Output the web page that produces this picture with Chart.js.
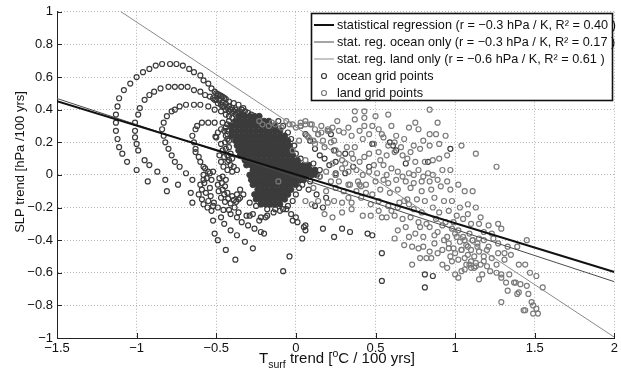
<!DOCTYPE html>
<html><head><meta charset="utf-8">
<script src="https://cdn.jsdelivr.net/npm/chart.js@4.4.0/dist/chart.umd.min.js"></script>
<style>html,body{margin:0;padding:0;background:#fff;}canvas{display:block;}</style>
</head><body>
<canvas id="c" width="621" height="373"></canvas>
<script>
const xTicks = [-1.5, -1, -0.5, 0, 0.5, 1, 1.5, 2];
const yTicks = [-1, -0.8, -0.6, -0.4, -0.2, 0, 0.2, 0.4, 0.6, 0.8, 1];

const regressionLabels = [
  'statistical regression (r = \u22120.3 hPa / K, R\u00b2 = 0.40 )',
  'stat. reg. ocean only (r = \u22120.3 hPa / K, R\u00b2 = 0.17 )',
  'stat. reg. land only (r = \u22120.6 hPa / K, R\u00b2 = 0.61 )'
];
const regressionSlopes = [-0.299, -0.321, -0.644];
const regressionIntercepts = [0.003, -0.013, 0.293];
const pointLabels = ['ocean grid points', 'land grid points'];

const oceanPoints = [
[-1.06,0.08],[-1.09,0.13],[-1.11,0.17],[-1.12,0.22],[-1.13,0.27],[-1.13,0.32],[-1.13,0.37],[-1.12,0.42],[-1.11,0.47],[-1.08,0.52],[-1.04,0.56],[-1.00,0.60],[-0.96,0.63],[-0.92,0.65],[-0.88,0.67],[-0.84,0.68],[-0.79,0.68],[-0.75,0.68],[-0.71,0.67],[-0.67,0.65],[-0.64,0.63],[-0.60,0.61],[-0.58,0.58],[-0.55,0.56],[-0.53,0.53],[-0.51,0.51],
[-0.50,0.50],[-0.49,0.495],[-0.48,0.49],[-0.47,0.484],[-0.46,0.478],[-0.45,0.472],[-0.44,0.465],[-0.42,0.45],[-0.39,0.44],[-0.36,0.43],[-0.33,0.41],
[-0.52,0.47],[-0.50,0.46],[-0.48,0.455],[-0.46,0.445],[-0.44,0.435],[-0.42,0.42],[-0.40,0.41],[-0.38,0.40],[-0.36,0.39],
[-0.47,0.43],[-0.45,0.42],[-0.43,0.41],[-0.41,0.40],[-0.39,0.39],[-0.37,0.38],[-0.35,0.375],[-0.33,0.37],
[-0.34,0.40],[-0.32,0.39],[-0.30,0.38],[-0.28,0.37],
[-1.00,0.03],[-0.93,-0.04],[-0.81,-0.10],
[-0.98,0.41],[-0.99,0.37],[-1.01,0.32],[-1.01,0.27],[-1.01,0.23],[-1.00,0.19],[-0.99,0.15],[-0.95,0.09],[-0.92,0.06],[-0.87,0.02],[-0.82,-0.03],[-0.74,-0.06],[-0.66,-0.11],[-0.65,-0.17],
[-0.95,0.46],[-0.92,0.49],[-0.89,0.51],[-0.85,0.53],[-0.80,0.54],[-0.76,0.54],[-0.72,0.54],[-0.68,0.54],[-0.64,0.52],[-0.60,0.51],[-0.57,0.49],[-0.54,0.48],[-0.51,0.46],[-0.49,0.44],[-0.46,0.42],[-0.44,0.40],[-0.42,0.39],[-0.40,0.38],[-0.38,0.37],[-0.36,0.36],
[-0.78,0.39],[-0.76,0.40],[-0.73,0.42],[-0.69,0.43],[-0.64,0.43],[-0.60,0.43],[-0.55,0.42],[-0.51,0.40],[-0.47,0.39],[-0.44,0.37],[-0.42,0.36],[-0.40,0.35],
[-0.81,0.36],[-0.83,0.32],[-0.84,0.28],[-0.83,0.24],[-0.82,0.20],[-0.80,0.16],[-0.78,0.12],[-0.76,0.08],[-0.73,0.05],[-0.69,0.01],[-0.65,-0.03],
[-0.63,0.14],[-0.61,0.11],[-0.60,0.08],[-0.58,0.05],[-0.55,0.02],
[-0.63,0.28],[-0.62,0.30],[-0.59,0.32],[-0.55,0.32],[-0.51,0.32],[-0.46,0.32],[-0.43,0.31],[-0.41,0.30],
[-0.65,0.24],[-0.64,0.20],[-0.63,0.16],
[-0.50,0.23],[-0.505,0.235],[-0.49,0.26],[-0.47,0.28],[-0.44,0.29],[-0.47,0.19],[-0.46,0.15],[-0.45,0.11],[-0.43,0.08],[-0.41,0.06],[-0.43,0.25],[-0.42,0.21],[-0.42,0.17],[-0.41,0.13],[-0.40,0.10],[-0.48,0.12],[-0.47,0.08],[-0.455,0.05],[-0.43,0.03],[-0.40,0.02],
[-0.45,0.27],[-0.44,0.24],[-0.445,0.20],[-0.44,0.16],[-0.43,0.12],[-0.42,0.09],[-0.39,0.05],[-0.37,0.03],
[-0.54,0.01],[-0.56,-0.02],[-0.60,-0.06],[-0.61,-0.12],[-0.58,-0.18],[-0.53,-0.22],[-0.58,-0.03],[-0.59,-0.09],[-0.59,-0.15],[-0.555,-0.20],
[-0.57,0.04],[-0.58,0.00],[-0.575,-0.05],[-0.565,-0.11],[-0.55,-0.16],[-0.52,-0.19],
[-0.52,0.02],[-0.53,-0.03],[-0.54,-0.08],[-0.535,-0.13],[-0.515,-0.17],[-0.49,-0.20],[-0.455,-0.215],[-0.42,-0.215],[-0.385,-0.20],
[-0.48,-0.02],[-0.49,-0.06],[-0.485,-0.10],[-0.47,-0.14],[-0.445,-0.165],[-0.41,-0.175],[-0.375,-0.165],[-0.35,-0.14],
[-0.46,-0.01],[-0.465,-0.05],[-0.46,-0.09],[-0.45,-0.12],[-0.425,-0.145],[-0.39,-0.155],[-0.36,-0.15],[-0.33,-0.12],
[-0.44,-0.03],[-0.445,-0.07],[-0.43,-0.11],[-0.40,-0.13],[-0.37,-0.12],[-0.35,-0.09],
[-0.42,0.33],[-0.43,0.27],[-0.43,0.22],[-0.11,0.33],[-0.08,0.30],[-0.05,0.26],[-0.03,0.22],[-0.01,0.18],[0.00,0.13],[0.03,0.10],[0.11,0.07],[0.15,0.03],[0.15,-0.01],[0.09,-0.04],[0.02,-0.08],[0.00,-0.12],[-0.02,-0.16],[-0.05,-0.19],[-0.08,-0.21],[-0.13,-0.21],[-0.18,-0.21],[-0.25,-0.19],[-0.29,-0.17],
[-0.52,-0.28],[-0.51,-0.36],[-0.49,-0.40],[-0.44,-0.46],[-0.38,-0.52],[-0.08,-0.59],[-0.04,-0.50],[-0.27,-0.45],[-0.32,-0.41],[-0.37,-0.37],[-0.41,-0.34],[-0.45,-0.30],[-0.47,-0.26],[-0.22,-0.35],[-0.20,-0.36],[-0.26,-0.33],[-0.30,-0.31],[-0.34,-0.29],[-0.37,-0.26],[-0.41,-0.24],
[-0.36,-0.23],[-0.31,-0.25],[-0.27,-0.24],[-0.22,-0.26],[-0.18,-0.25],[-0.14,-0.23],[-0.10,-0.22],[-0.06,-0.21],[-0.03,-0.24],[-0.02,-0.28],[-0.29,-0.25],[-0.23,-0.28],[-0.19,-0.26],[0.00,-0.26],[0.01,-0.29],[0.05,-0.32],[0.06,-0.34],[0.04,-0.39],
[0.03,0.30],[0.06,0.25],[0.09,0.21],[0.12,0.16],[0.15,0.12],[0.18,0.10],[0.21,0.06],[0.24,0.15],[0.31,0.13],[0.25,0.08],[0.25,0.01],[0.31,0.01],[0.36,0.05],[0.46,0.05],[0.48,0.19],[0.59,0.20],[0.61,0.18],[0.63,0.15],[0.97,0.16],[0.69,0.07],[0.83,0.08],[0.22,0.25],[0.04,-0.06],[0.08,-0.09],[0.13,-0.12],[0.19,-0.14],[0.17,-0.20],[0.12,-0.19],
[0.24,-0.38],[0.29,-0.33],[0.34,-0.35],[0.45,-0.36],[0.48,-0.37],[0.54,-0.48],[0.81,-0.61],[0.86,-0.62],[0.54,-0.65],[0.81,-0.69],[0.17,-0.33],[0.06,-0.31]
];

// dense ocean core: each row is [y, x1, x2, ...]
const oceanCoreRows = [
[0.36, -0.35,-0.32,-0.29,-0.26,-0.23],
[0.33, -0.38,-0.35,-0.32,-0.29,-0.26,-0.23,-0.20,-0.17],
[0.30, -0.40,-0.37,-0.34,-0.31,-0.28,-0.25,-0.22,-0.19,-0.16,-0.13],
[0.27, -0.40,-0.37,-0.34,-0.31,-0.28,-0.25,-0.22,-0.19,-0.16,-0.13,-0.10],
[0.24, -0.40,-0.37,-0.34,-0.31,-0.28,-0.25,-0.22,-0.19,-0.16,-0.13,-0.10,-0.07],
[0.21, -0.38,-0.35,-0.32,-0.29,-0.26,-0.23,-0.20,-0.17,-0.14,-0.11,-0.08,-0.05],
[0.18, -0.37,-0.34,-0.31,-0.28,-0.25,-0.22,-0.19,-0.16,-0.13,-0.10,-0.07,-0.04],
[0.15, -0.36,-0.33,-0.30,-0.27,-0.24,-0.21,-0.18,-0.15,-0.12,-0.09,-0.06,-0.03],
[0.12, -0.35,-0.32,-0.29,-0.26,-0.23,-0.20,-0.17,-0.14,-0.11,-0.08,-0.05,-0.02],
[0.09, -0.32,-0.29,-0.26,-0.23,-0.20,-0.17,-0.14,-0.11,-0.08,-0.05,-0.02,0.01],
[0.06, -0.31,-0.28,-0.25,-0.22,-0.19,-0.16,-0.13,-0.10,-0.07,-0.04,-0.01,0.02,0.05,0.08],
[0.03, -0.27,-0.24,-0.21,-0.18,-0.15,-0.12,-0.09,-0.06,-0.03,0.00,0.03,0.06,0.09,0.12],
[0.00, -0.29,-0.26,-0.23,-0.20,-0.17,-0.14,-0.11,-0.08,-0.05,-0.02,0.01,0.04,0.07,0.10,0.13],
[-0.03, -0.28,-0.25,-0.22,-0.19,-0.16,-0.13,-0.10,-0.07,-0.04,-0.01,0.02,0.05],
[-0.06, -0.27,-0.24,-0.21,-0.18,-0.15,-0.12,-0.09,-0.06,-0.03,0.00],
[-0.09, -0.24,-0.21,-0.18,-0.15,-0.12,-0.09,-0.06,-0.03],
[-0.12, -0.26,-0.23,-0.20,-0.17,-0.14,-0.11,-0.08,-0.05],
[-0.15, -0.25,-0.22,-0.19,-0.16,-0.13,-0.10,-0.07],
[-0.18, -0.22,-0.19,-0.16,-0.13,-0.10]
];

const landPoints = [
[0.37,0.39],[0.43,0.39],[0.84,0.40],[0.50,0.36],[0.58,0.37],[0.37,0.34],[0.43,0.35],[0.43,0.30],[0.48,0.30],[0.54,0.25],[0.71,0.29],[0.75,0.32],[0.89,0.32],[0.77,0.28],[0.84,0.25],[0.88,0.25],[0.94,0.24],[1.04,0.18],[1.13,0.13],[1.26,0.05],[0.84,0.18],[0.74,0.18],[0.68,0.22],[0.55,0.23],[0.49,0.19],[0.42,0.22],[0.35,0.24],[0.33,0.29],[0.27,0.27],[0.23,0.29],[0.20,0.27],[0.14,0.25],[0.10,0.31],[0.06,0.31],[0.03,0.30],[0.07,0.24],[0.11,0.21],[0.17,0.21],[0.22,0.20],[0.25,0.15],[0.32,0.17],[0.37,0.17],[0.35,0.13],[0.43,0.11],[0.46,0.13],[0.52,0.14],[0.57,0.12],[0.62,0.14],[0.67,0.12],[0.70,0.10],[0.75,0.08],[0.81,0.08],[0.86,0.09],[0.92,0.03],[0.97,0.03],[0.83,0.01],[0.77,0.03],[0.71,0.01],[0.64,0.02],[0.60,0.04],[0.55,0.06],[0.49,0.06],[0.46,0.02],[0.38,0.03],[0.33,0.02],[0.29,0.04],[0.25,0.00],[0.22,-0.04],[0.27,-0.04],[0.33,-0.06],[0.39,-0.04],[0.44,-0.06],[0.50,-0.04],[0.55,-0.03],[0.58,-0.05],[0.63,-0.03],[0.69,-0.04],[0.74,-0.05],[0.79,-0.04],[0.84,-0.04],[0.89,-0.03],[0.95,-0.04],[1.02,-0.06],[1.06,-0.10],[1.11,-0.10],[1.08,-0.18],[1.03,-0.20],[0.98,-0.16],[0.93,-0.16],[0.87,-0.14],[0.81,-0.16],[0.76,-0.15],[0.71,-0.18],[0.64,-0.20],[0.58,-0.19],[0.52,-0.16],[0.47,-0.18],[0.44,-0.11],[0.38,-0.10],[0.33,-0.14],[0.29,-0.17],[0.24,-0.16],[0.20,-0.17],[0.14,-0.16],[0.10,-0.18],[0.06,-0.16],[0.18,-0.24],[0.23,-0.26],[0.29,-0.23],[0.35,-0.21],[0.42,-0.25],[0.47,-0.25],[0.52,-0.22],[0.57,-0.26],[0.62,-0.25],[0.67,-0.27],[0.72,-0.26],[0.77,-0.29],[0.82,-0.30],[0.88,-0.27],[0.94,-0.29],[0.99,-0.29],[1.05,-0.27],[1.10,-0.30],[1.15,-0.30],[1.18,-0.35],[1.27,-0.30],[1.29,-0.33],[1.23,-0.36],[1.18,-0.40],[1.11,-0.40],[1.06,-0.40],[1.01,-0.38],[0.95,-0.38],[0.89,-0.35],[0.84,-0.32],[0.78,-0.32],[0.75,-0.36],[0.69,-0.32],[0.64,-0.34],[0.62,-0.39],[0.73,-0.44],[0.77,-0.45],[0.80,-0.44],[0.87,-0.42],[0.92,-0.46],[0.96,-0.45],[1.00,-0.48],[1.04,-0.46],[1.08,-0.44],[1.14,-0.42],[1.21,-0.44],[1.27,-0.42],[1.33,-0.44],[1.39,-0.44],[1.45,-0.40],[1.31,-0.48],[1.27,-0.48],[1.23,-0.51],[1.18,-0.53],[1.13,-0.54],[1.09,-0.55],[1.06,-0.51],[0.98,-0.53],[0.92,-0.55],[0.85,-0.51],[0.82,-0.51],[0.78,-0.51],[0.73,-0.55],[1.00,-0.61],[1.04,-0.59],[1.10,-0.57],[1.17,-0.61],[1.22,-0.59],[1.26,-0.60],[1.29,-0.61],[1.29,-0.63],[1.34,-0.61],[1.40,-0.55],[1.51,-0.62],[1.55,-0.69],[1.38,-0.66],[1.39,-0.73],[1.40,-0.72],[1.46,-0.73],[1.48,-0.78],[1.49,-0.80],[1.51,-0.82],[1.52,-0.85],[1.49,-0.85],[1.44,-0.83],[1.29,-0.78],[1.33,-0.71],[1.37,-0.66],[1.41,-0.67],[1.43,-0.83],
[0.98,-0.33],[1.00,-0.36],[1.02,-0.34],[1.05,-0.38],[1.03,-0.41],[1.07,-0.43],[1.10,-0.46],[1.08,-0.49],[1.12,-0.50],[1.15,-0.47],[1.10,-0.53],[1.13,-0.56],[1.16,-0.55],[1.06,-0.58],[1.02,-0.52],[0.99,-0.45],[0.96,-0.42],[1.11,-0.40],[1.14,-0.44],[1.18,-0.50],[1.20,-0.46],[0.97,-0.50],[1.04,-0.46],[1.09,-0.36],[1.15,-0.39],[1.07,-0.55],[1.12,-0.57],
[0.68,-0.16],[0.70,-0.15],[0.40,-0.06],[0.41,-0.07],
[-0.02,0.31],[0.03,0.32],[0.09,0.31],[0.14,0.25],[0.21,0.27],[0.08,0.23],[0.02,0.21],[-0.02,0.15],[0.06,0.09],[0.12,0.19],[0.18,0.17],[0.24,0.21],[0.27,0.13],[0.31,0.07],[0.23,0.07],[0.19,0.02],[0.25,0.00],[0.15,-0.01],[0.11,-0.08],[0.19,-0.10],[0.25,-0.08],[0.30,-0.10],[0.34,-0.06],[-0.11,-0.04],[-0.21,0.31],[-0.17,0.30],[-0.13,0.31],[-0.09,0.29],[-0.04,0.31],[-0.23,0.33],[-0.15,0.32],[-0.06,0.33],[0.00,0.29],[0.06,0.33],[0.16,0.26],[0.20,0.28],
[0.12,0.28],[0.16,0.30],[0.26,0.33],[0.30,0.26],[0.40,0.27],[0.46,0.25],[0.52,0.28],[0.60,0.30],[0.63,0.24],[0.58,0.18],[0.62,0.20],[0.66,0.17],[0.72,0.14],[0.78,0.16],[0.80,0.21],[0.90,0.19],[0.95,0.12],[0.90,0.10],[0.53,0.09],[0.40,0.08],[0.36,0.10],[0.29,0.09],[0.42,0.00],[0.51,0.01],[0.57,0.00],[0.67,-0.01],[0.74,0.00],[0.80,-0.01],[0.86,0.00],[0.91,-0.07],[0.97,-0.09],[0.85,-0.09],[0.79,-0.10],[0.72,-0.08],[0.64,-0.09],[0.59,-0.11],[0.53,-0.09],[0.48,-0.12],[0.41,-0.14],[0.35,-0.17],[0.54,-0.26],[0.60,-0.22],[0.65,-0.17],[0.74,-0.21],[0.79,-0.23],[0.86,-0.20],[0.90,-0.23],[0.96,-0.22],[1.01,-0.25],[1.08,-0.24],[1.13,-0.20],[1.16,-0.26],[1.21,-0.31],[1.24,-0.39],[0.92,-0.31],[0.87,-0.37],[0.80,-0.38],[0.71,-0.38],[0.68,-0.43],[0.84,-0.47],[0.89,-0.48],[0.93,-0.40],[1.31,-0.52],[1.35,-0.49],[1.44,-0.55],[1.47,-0.60],[1.26,-0.55],[1.20,-0.56],[0.95,-0.57],[1.02,-0.63],[1.15,-0.64],[1.32,-0.66],[1.45,-0.68]
];

const FONT = "'Liberation Sans', Arial, Helvetica, sans-serif";
const OCEAN_COLOR = '#3b3b3b';
const LAND_COLOR = '#7a7a7a';
const LINE_COLORS = ['#111111', '#4a4a4a', '#8a8a8a'];
const LINE_WIDTHS = [2, 1, 1];

const toXY = a => a.map(p => ({x: p[0], y: p[1]}));
const coreData = [];
oceanCoreRows.forEach(r => { for (let i = 1; i < r.length; i++) coreData.push({x: r[i], y: r[0]}); });
const xMin = xTicks[0], xMax = xTicks[xTicks.length - 1];

const lineSets = regressionLabels.map((lab, i) => ({
  label: lab, type: 'line', showLine: true,
  data: [{x: xMin, y: regressionSlopes[i]*xMin + regressionIntercepts[i]}, {x: xMax, y: regressionSlopes[i]*xMax + regressionIntercepts[i]}],
  borderColor: LINE_COLORS[i], borderWidth: LINE_WIDTHS[i], pointRadius: 0, fill: false, order: i*0.1
}));

const fmt = v => { const r = Math.round(v*10)/10; return r < 0 ? '\u2212' + String(Math.abs(r)) : String(r); };

const tickPlugin = {
  id: 'inTicks',
  afterDatasetsDraw(chart) {
    const {ctx, chartArea: a, scales: {x, y}} = chart;
    ctx.save(); ctx.strokeStyle = '#222'; ctx.lineWidth = 1; ctx.beginPath();
    yTicks.forEach(v => { const py = Math.round(y.getPixelForValue(v)) + 0.5; ctx.moveTo(a.left, py); ctx.lineTo(a.left + 5, py); });
    xTicks.forEach(v => { const px = Math.round(x.getPixelForValue(v)) + 0.5; ctx.moveTo(px, a.bottom); ctx.lineTo(px, a.bottom - 5); });
    ctx.stroke(); ctx.restore();
  }
};

const legendPlugin = {
  id: 'boxLegend',
  afterDatasetsDraw(chart) {
    const ctx = chart.ctx;
    ctx.save();
    const L = 311.5, T = 13.5, R = 612.5, B = 100.5;
    ctx.fillStyle = '#fff'; ctx.fillRect(L, T, R - L, B - T);
    ctx.strokeStyle = '#111'; ctx.lineWidth = 1.6; ctx.strokeRect(L, T, R - L, B - T);
    const rows = [25, 42, 59, 76, 93];
    ctx.font = '12.7px ' + FONT; ctx.fillStyle = '#111'; ctx.textBaseline = 'middle'; ctx.textAlign = 'left';
    for (let i = 0; i < 3; i++) {
      ctx.strokeStyle = LINE_COLORS[i]; ctx.lineWidth = LINE_WIDTHS[i];
      ctx.beginPath(); ctx.moveTo(314, rows[i]); ctx.lineTo(334, rows[i]); ctx.stroke();
      ctx.fillText(regressionLabels[i], 337, rows[i]);
    }
    [OCEAN_COLOR, LAND_COLOR].forEach((c, j) => {
      ctx.strokeStyle = c; ctx.lineWidth = 1.2;
      ctx.beginPath(); ctx.arc(324, rows[3 + j], 2.5, 0, Math.PI*2); ctx.stroke();
      ctx.fillText(pointLabels[j], 337, rows[3 + j]);
    });
    ctx.restore();
  }
};

const titlePlugin = {
  id: 'axisTitles',
  afterDraw(chart) {
    const ctx = chart.ctx;
    ctx.save();
    ctx.fillStyle = '#111';
    ctx.translate(20, 162); ctx.rotate(-Math.PI/2);
    ctx.font = '13px ' + FONT; ctx.textAlign = 'center'; ctx.textBaseline = 'middle';
    ctx.fillText('SLP trend [hPa /100 yrs]', 0, 0);
    ctx.setTransform(1, 0, 0, 1, 0, 0);
    const big = '15px ' + FONT, small = '10.5px ' + FONT;
    const parts = [['T', big, 0], ['surf', small, 5], [' trend [', big, 0], ['o', small, -6], ['C / 100 yrs]', big, 0]];
    let w = 0;
    parts.forEach(p => { ctx.font = p[1]; w += ctx.measureText(p[0]).width; });
    let x0 = 337 - w/2; const base = 363;
    ctx.textAlign = 'left'; ctx.textBaseline = 'alphabetic';
    parts.forEach(p => { ctx.font = p[1]; ctx.fillText(p[0], x0, base + p[2]); x0 += ctx.measureText(p[0]).width; });
    ctx.restore();
  }
};

Chart.defaults.font.family = FONT;
Chart.defaults.color = '#111';

new Chart(document.getElementById('c'), {
  type: 'scatter',
  data: {
    datasets: [
      ...lineSets,
      {label: pointLabels[1], data: toXY(landPoints), pointStyle: 'circle', pointRadius: 2.5, borderWidth: 1.2, borderColor: LAND_COLOR, backgroundColor: 'rgba(0,0,0,0)', order: 1},
      {label: pointLabels[0], data: toXY(oceanPoints), pointStyle: 'circle', pointRadius: 2.5, borderWidth: 1.2, borderColor: OCEAN_COLOR, backgroundColor: 'rgba(0,0,0,0)', order: 2},
      {label: 'ocean core', data: coreData, pointStyle: 'circle', pointRadius: 2.9, borderWidth: 1, borderColor: OCEAN_COLOR, backgroundColor: OCEAN_COLOR, order: 3}
    ]
  },
  options: {
    responsive: false, animation: false, devicePixelRatio: 1,
    layout: {padding: {left: 0, right: 4, top: 10, bottom: 0}},
    plugins: {legend: {display: false}, tooltip: {enabled: false}},
    scales: {
      x: {
        type: 'linear', min: xMin, max: xMax,
        afterBuildTicks: s => { s.ticks = xTicks.map(v => ({value: v})); },
        afterFit: s => { s.height = 35; },
        ticks: {callback: v => fmt(v), font: {size: 13}, color: '#111', padding: 3, maxRotation: 0, autoSkip: false},
        grid: {color: '#b5b5b5', lineWidth: 1, drawTicks: false},
        border: {display: true, color: '#222', width: 1, dash: [1, 2]}
      },
      y: {
        type: 'linear', min: yTicks[0], max: yTicks[yTicks.length - 1],
        afterBuildTicks: s => { s.ticks = yTicks.map(v => ({value: v})); },
        afterFit: s => { s.width = 57; },
        ticks: {callback: v => fmt(v), font: {size: 13}, color: '#111', padding: 4, autoSkip: false},
        grid: {color: '#b5b5b5', lineWidth: 1, drawTicks: false},
        border: {display: true, color: '#222', width: 1, dash: [1, 2]}
      }
    }
  },
  plugins: [tickPlugin, legendPlugin, titlePlugin]
});
</script>
</body></html>
